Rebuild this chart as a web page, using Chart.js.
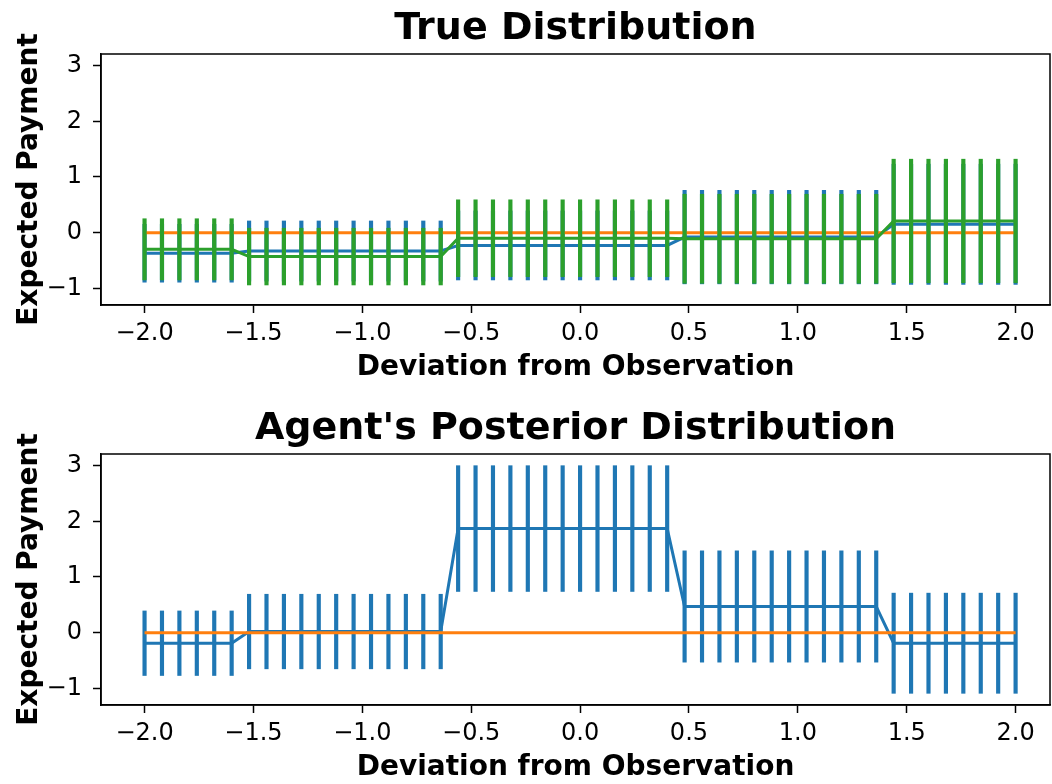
<!DOCTYPE html>
<html>
<head>
<meta charset="utf-8">
<script src="https://cdn.jsdelivr.net/npm/chart.js@4.4.1/dist/chart.umd.min.js"></script>
<style>
  html, body { margin: 0; padding: 0; background: #fff; overflow: hidden; }
  .panel { position: absolute; left: 0; width: 1052px; height: 400px; }
</style>
</head>
<body>
<div class="panel" style="top:0"><canvas id="trueChart" width="1052" height="400"></canvas></div>
<div class="panel" style="top:400px"><canvas id="agentChart" width="1052" height="400"></canvas></div>
<script>
// x positions (deviation from observation)
const deviations = [
  -2.00, -1.92, -1.84, -1.76, -1.68, -1.60, -1.52, -1.44, -1.36, -1.28,
  -1.20, -1.12, -1.04, -0.96, -0.88, -0.80, -0.72, -0.64, -0.56, -0.48,
  -0.40, -0.32, -0.24, -0.16, -0.08, 0.00, 0.08, 0.16, 0.24, 0.32,
  0.40, 0.48, 0.56, 0.64, 0.72, 0.80, 0.88, 0.96, 1.04, 1.12,
  1.20, 1.28, 1.36, 1.44, 1.52, 1.60, 1.68, 1.76, 1.84, 1.92, 2.00
];
const xTicks = [-2.0, -1.5, -1.0, -0.5, 0.0, 0.5, 1.0, 1.5, 2.0];
const yTicks = [-1, 0, 1, 2, 3];

// True Distribution
const trueBlueMean = [
  -0.37, -0.37, -0.37, -0.37, -0.37, -0.37,
  -0.33, -0.33, -0.33, -0.33, -0.33, -0.33, -0.33, -0.33, -0.33, -0.33, -0.33, -0.33,
  -0.23, -0.23, -0.23, -0.23, -0.23, -0.23, -0.23, -0.23, -0.23, -0.23, -0.23, -0.23, -0.23,
  -0.08, -0.08, -0.08, -0.08, -0.08, -0.08, -0.08, -0.08, -0.08, -0.08, -0.08, -0.08,
  0.15, 0.15, 0.15, 0.15, 0.15, 0.15, 0.15, 0.15
];
const trueBlueErr = [
  0.52, 0.52, 0.52, 0.52, 0.52, 0.52,
  0.54, 0.54, 0.54, 0.54, 0.54, 0.54, 0.54, 0.54, 0.54, 0.54, 0.54, 0.54,
  0.62, 0.62, 0.62, 0.62, 0.62, 0.62, 0.62, 0.62, 0.62, 0.62, 0.62, 0.62, 0.62,
  0.84, 0.84, 0.84, 0.84, 0.84, 0.84, 0.84, 0.84, 0.84, 0.84, 0.84, 0.84,
  1.08, 1.08, 1.08, 1.08, 1.08, 1.08, 1.08, 1.08
];
const trueOrange = [
  0, 0, 0, 0, 0, 0, 0, 0, 0, 0, 0, 0, 0, 0, 0, 0, 0, 0, 0, 0, 0, 0, 0, 0, 0, 0,
  0, 0, 0, 0, 0, 0, 0, 0, 0, 0, 0, 0, 0, 0, 0, 0, 0, 0, 0, 0, 0, 0, 0, 0, 0
];
const trueGreenMean = [
  -0.30, -0.30, -0.30, -0.30, -0.30, -0.30,
  -0.43, -0.43, -0.43, -0.43, -0.43, -0.43, -0.43, -0.43, -0.43, -0.43, -0.43, -0.43,
  -0.10, -0.10, -0.10, -0.10, -0.10, -0.10, -0.10, -0.10, -0.10, -0.10, -0.10, -0.10, -0.10,
  -0.11, -0.11, -0.11, -0.11, -0.11, -0.11, -0.11, -0.11, -0.11, -0.11, -0.11, -0.11,
  0.21, 0.21, 0.21, 0.21, 0.21, 0.21, 0.21, 0.21
];
const trueGreenErr = [
  0.55, 0.55, 0.55, 0.55, 0.55, 0.55,
  0.51, 0.51, 0.51, 0.51, 0.51, 0.51, 0.51, 0.51, 0.51, 0.51, 0.51, 0.51,
  0.69, 0.69, 0.69, 0.69, 0.69, 0.69, 0.69, 0.69, 0.69, 0.69, 0.69, 0.69, 0.69,
  0.80, 0.80, 0.80, 0.80, 0.80, 0.80, 0.80, 0.80, 0.80, 0.80, 0.80, 0.80,
  1.11, 1.11, 1.11, 1.11, 1.11, 1.11, 1.11, 1.11
];

// Agent's Posterior Distribution
const agentBlueMean = [
  -0.19, -0.19, -0.19, -0.19, -0.19, -0.19,
  0.02, 0.02, 0.02, 0.02, 0.02, 0.02, 0.02, 0.02, 0.02, 0.02, 0.02, 0.02,
  1.87, 1.87, 1.87, 1.87, 1.87, 1.87, 1.87, 1.87, 1.87, 1.87, 1.87, 1.87, 1.87,
  0.47, 0.47, 0.47, 0.47, 0.47, 0.47, 0.47, 0.47, 0.47, 0.47, 0.47, 0.47,
  -0.19, -0.19, -0.19, -0.19, -0.19, -0.19, -0.19, -0.19
];
const agentBlueErr = [
  0.58, 0.58, 0.58, 0.58, 0.58, 0.58,
  0.67, 0.67, 0.67, 0.67, 0.67, 0.67, 0.67, 0.67, 0.67, 0.67, 0.67, 0.67,
  1.13, 1.13, 1.13, 1.13, 1.13, 1.13, 1.13, 1.13, 1.13, 1.13, 1.13, 1.13, 1.13,
  1.00, 1.00, 1.00, 1.00, 1.00, 1.00, 1.00, 1.00, 1.00, 1.00, 1.00, 1.00,
  0.90, 0.90, 0.90, 0.90, 0.90, 0.90, 0.90, 0.90
];
const agentOrange = [
  0, 0, 0, 0, 0, 0, 0, 0, 0, 0, 0, 0, 0, 0, 0, 0, 0, 0, 0, 0, 0, 0, 0, 0, 0, 0,
  0, 0, 0, 0, 0, 0, 0, 0, 0, 0, 0, 0, 0, 0, 0, 0, 0, 0, 0, 0, 0, 0, 0, 0, 0
];

const BLUE = '#1f77b4';
const ORANGE = '#ff7f0e';
const GREEN = '#2ca02c';
const FONT = 'DejaVu Sans';

const minus = s => s.replace('-', '\u2212');

// lower order is drawn on top
const lineSet = (mean, color, order) => ({
  type: 'line',
  data: deviations.map((x, i) => ({ x, y: mean[i] })),
  borderColor: color,
  borderWidth: 3,
  pointRadius: 0,
  tension: 0,
  order,
});

// error bars as thin floating bars
const errSet = (mean, err, color, order) => ({
  type: 'bar',
  data: deviations.map((x, i) => ({ x, y: [mean[i] - err[i], mean[i] + err[i]] })),
  backgroundColor: color,
  barThickness: 3.5,
  grouped: false,
  order,
});

const framePlugin = {
  id: 'frame',
  afterDatasetsDraw(chart) {
    const { ctx, chartArea: a } = chart;
    ctx.save();
    ctx.strokeStyle = '#000';
    ctx.lineWidth = 1.5;
    ctx.strokeRect(a.left, a.top, a.right - a.left, a.bottom - a.top);
    ctx.restore();
  },
};

const tickGrid = { offset: false, drawOnChartArea: false, drawTicks: true, tickLength: 8, tickColor: '#000', tickWidth: 1.5 };

const makeChart = (id, title, datasets) => {
  new Chart(document.getElementById(id).getContext('2d'), {
    type: 'line',
    data: { datasets },
    plugins: [framePlugin],
    options: {
      responsive: false,
      animation: false,
      devicePixelRatio: 1,
      layout: { padding: { left: 0, right: 2, top: 0, bottom: 0 } },
      plugins: {
        legend: { display: false },
        tooltip: { enabled: false },
        title: {
          display: true,
          text: title,
          fullSize: false,
          color: '#000',
          font: { family: FONT, size: 38, weight: 'bold' },
          padding: { top: 6.2, bottom: 2.2 },
        },
      },
      scales: {
        x: {
          type: 'linear',
          min: -2.2,
          max: 2.158,
          offset: false,
          afterBuildTicks: axis => { axis.ticks = xTicks.map(v => ({ value: v })); },
          afterFit: axis => { axis.height = 95; },
          grid: tickGrid,
          border: { color: '#000', width: 1.5 },
          ticks: {
            color: '#000',
            padding: 6.6,
            maxRotation: 0,
            autoSkip: false,
            font: { family: FONT, size: 24 },
            callback: v => minus(v.toFixed(1)),
          },
          title: {
            display: true,
            text: 'Deviation from Observation',
            color: '#000',
            font: { family: FONT, size: 28, weight: 'bold' },
            padding: { top: 0, bottom: 15 },
          },
        },
        y: {
          min: -1.30,
          max: 3.21,
          afterBuildTicks: axis => { axis.ticks = yTicks.map(v => ({ value: v })); },
          afterFit: axis => { axis.width = 101; },
          grid: tickGrid,
          border: { color: '#000', width: 1.5 },
          ticks: {
            color: '#000',
            padding: 11,
            font: { family: FONT, size: 24 },
            callback: v => minus(v.toFixed(0)),
          },
          title: {
            display: true,
            text: 'Expected Payment',
            color: '#000',
            font: { family: FONT, size: 28, weight: 'bold' },
            padding: { top: 13.2, bottom: 0 },
          },
        },
      },
    },
  });
};

makeChart('trueChart', 'True Distribution', [
  lineSet(trueGreenMean, GREEN, 0),
  errSet(trueGreenMean, trueGreenErr, GREEN, 1),
  lineSet(trueOrange, ORANGE, 2),
  lineSet(trueBlueMean, BLUE, 3),
  errSet(trueBlueMean, trueBlueErr, BLUE, 4),
]);

makeChart('agentChart', "Agent's Posterior Distribution", [
  lineSet(agentOrange, ORANGE, 2),
  lineSet(agentBlueMean, BLUE, 3),
  errSet(agentBlueMean, agentBlueErr, BLUE, 4),
]);
</script>
</body>
</html>
